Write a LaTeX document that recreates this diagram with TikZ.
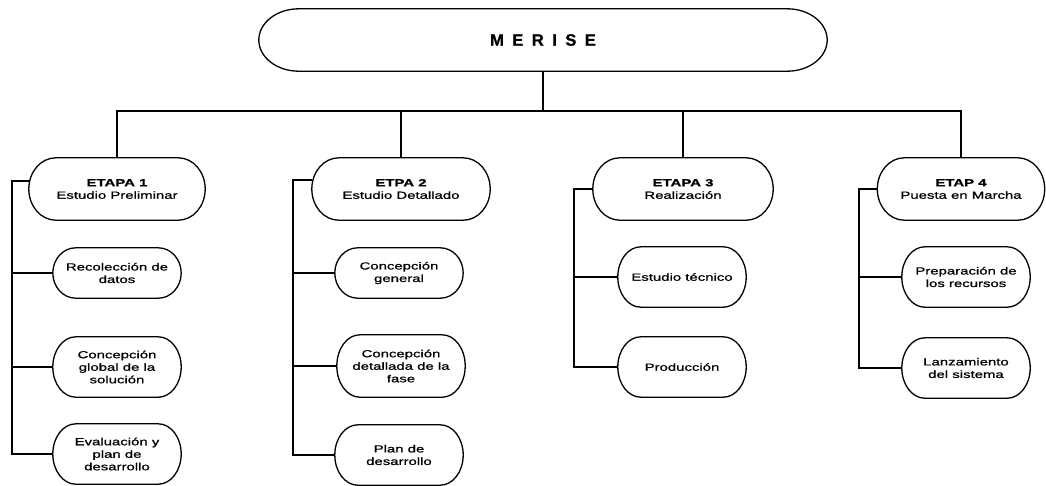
\documentclass[tikz,border=0pt]{standalone}
\usepackage{fontspec}
\setmainfont{Liberation Sans}[FakeStretch=1.45, FakeBold=0.9]
\usetikzlibrary{calc}

\begin{document}
\begin{tikzpicture}[x=1pt, y=1pt,
  txt/.style={inner sep=0pt, align=center, font=\fontsize{10.3}{12.5}\selectfont},
  stage/.style={txt, minimum width=#1, minimum height=62pt},
  sub/.style={txt, minimum width=128pt, minimum height=#1},
  outline/.style={draw=black, line width=1.3pt},
  link/.style={draw=black, line width=1.2pt}
]
\fill[white] (0,0) rectangle (1046,-485);
\useasboundingbox (0,0) rectangle (1046,-485);

% top node
\node[txt, minimum width=568pt, minimum height=62pt] (m) at (543,-40)
  {\fontsize{16.5}{18}\selectfont\fontspec{Liberation Sans}[FakeBold=1]\bfseries
   M\kern8.5pt E\kern8.5pt R\kern8.5pt I\kern8.5pt S\kern8.5pt E};

% stages
\node[stage=176pt] (e1) at (117,-189) {\textbf{ETAPA 1}\\Estudio Preliminar};
\node[stage=178pt] (e2) at (401,-189) {\textbf{ETPA 2}\\Estudio Detallado};
\node[stage=180pt] (e3) at (683,-189) {\textbf{ETAPA 3}\\Realización};
\node[stage=167pt] (e4) at (961,-189) {\textbf{ETAP 4}\\Puesta en Marcha};

% activities of each stage
\node[sub=50pt] (s11) at (117,-273) {Recolección de\\datos};
\node[sub=60pt] (s12) at (117,-367) {Concepción\\global de la\\solución};
\node[sub=60pt] (s13) at (117,-454) {Evaluación y\\plan de\\desarrollo};

\node[sub=50pt] (s21) at (399,-273) {Concepción\\general};
\node[sub=62pt] (s22) at (401,-366) {Concepción\\detallada de la\\fase};
\node[sub=60pt] (s23) at (399,-455) {Plan de\\desarrollo};

\node[sub=60pt] (s31) at (682,-277) {Estudio técnico};
\node[sub=60pt] (s32) at (682,-367) {Producción};

\node[sub=60pt] (s41) at (966,-277) {Preparación de\\los recursos};
\node[sub=60pt] (s42) at (966,-368) {Lanzamiento\\del sistema};

% box outlines: flat top and bottom, half-elliptic ends
\foreach \nd/\rx in {m/40, e1/27, e2/27, e3/27, e4/27,
  s11/23, s12/23, s13/23, s21/23, s22/23, s23/23, s31/23, s32/23, s41/23, s42/23}{
  \draw[outline] let \p1=(\nd.north east), \p2=(\nd.south west), \n1={(\y1-\y2)/2} in
    ([xshift=\rx pt]\nd.north west) -- ([xshift=-\rx pt]\nd.north east)
    arc[start angle=90, end angle=-90, x radius=\rx pt, y radius=\n1]
    -- ([xshift=\rx pt]\nd.south west)
    arc[start angle=270, end angle=90, x radius=\rx pt, y radius=\n1] -- cycle;
}

% tree connectors
\coordinate (bus) at (543,-111);
\draw[link] (m.south) -- (bus);
\draw[link] (e1.north) |- (bus) -| (e4.north);
\draw[link] (e2.north) -- (e2.north |- bus);
\draw[link] (e3.north) -- (e3.north |- bus);

% left spines
\coordinate (sp1) at (12,-181);
\coordinate (sp2) at (293,-180);
\coordinate (sp3) at (574,-189);
\coordinate (sp4) at (859,-189);

\draw[link] (e1.west |- sp1) -- (sp1) |- (s13.west);
\draw[link] (s11.west) -- (s11.west -| sp1);
\draw[link] (s12.west) -- (s12.west -| sp1);

\draw[link] (e2.west |- sp2) -- (sp2) |- (s23.west);
\draw[link] (s21.west) -- (s21.west -| sp2);
\draw[link] (s22.west) -- (s22.west -| sp2);

\draw[link] (e3.west |- sp3) -- (sp3) |- (s32.west);
\draw[link] (s31.west) -- (s31.west -| sp3);

\draw[link] (e4.west |- sp4) -- (sp4) |- (s42.west);
\draw[link] (s41.west) -- (s41.west -| sp4);
\end{tikzpicture}
\end{document}
